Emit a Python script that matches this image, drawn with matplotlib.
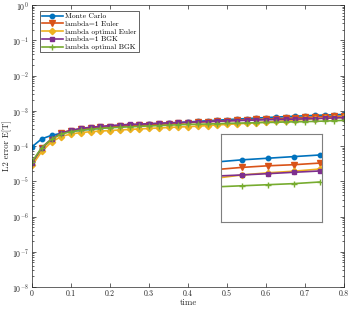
import numpy as np
import matplotlib
matplotlib.use('Agg')
import matplotlib.pyplot as plt
from matplotlib.ticker import LogLocator, NullFormatter

plt.rcParams['font.family'] = 'serif'
plt.rcParams['font.serif'] = ['cmr10']
plt.rcParams['mathtext.fontset'] = 'cm'
plt.rcParams['axes.formatter.use_mathtext'] = True
plt.rcParams['axes.unicode_minus'] = False

# time grid (dt = 0.025)
t = np.arange(33) * 0.025

# L2 error values, in units of 1e-4
mc = [0.95, 1.6, 2.0, 2.3, 2.6, 2.8, 3.0, 3.2, 3.4, 3.6, 3.8, 3.95, 4.1, 4.25, 4.4, 4.6, 4.8,
      5.0, 5.2, 5.4, 5.6, 5.8, 6.0, 6.2, 6.4, 6.6, 6.8, 7.0, 7.2, 7.4, 7.55, 7.7, 7.85]
euler1 = [0.33, 0.85, 1.5, 2.4, 2.75, 3.0, 3.2, 3.35, 3.5, 3.65, 3.8, 3.9, 4.0, 4.15, 4.3, 4.45, 4.6,
          4.75, 4.9, 5.05, 5.2, 5.35, 5.5, 5.65, 5.8, 5.95, 6.1, 6.3, 6.5, 6.7, 6.85, 6.95, 7.1]
euler_opt = [0.28, 0.7, 1.3, 1.85, 2.2, 2.4, 2.55, 2.65, 2.75, 2.85, 2.95, 3.05, 3.15, 3.25, 3.35, 3.45, 3.55,
             3.65, 3.8, 3.95, 4.1, 4.25, 4.4, 4.6, 4.8, 5.0, 5.2, 5.4, 5.7, 6.0, 6.2, 6.35, 6.55]
bgk1 = [0.33, 0.9, 1.6, 2.3, 2.8, 3.15, 3.4, 3.6, 3.8, 3.95, 4.1, 4.2, 4.3, 4.45, 4.55, 4.65, 4.75,
        4.85, 4.95, 5.05, 5.15, 5.25, 5.35, 5.45, 5.55, 5.65, 5.7, 5.8, 5.9, 6.0, 6.12, 6.25, 6.37]
bgk_opt = [0.36, 0.9, 1.55, 2.2, 2.55, 2.8, 3.0, 3.15, 3.3, 3.4, 3.5, 3.6, 3.7, 3.8, 3.9, 4.0, 4.1,
           4.15, 4.2, 4.3, 4.4, 4.45, 4.5, 4.6, 4.65, 4.7, 4.8, 4.85, 4.9, 5.0, 5.1, 5.2, 5.35]

labels = ['Monte Carlo', 'lambda=1 Euler', 'lambda optimal Euler', 'lambda=1 BGK', 'lambda optimal BGK']
colors = ['#0072BD', '#D95319', '#EDB120', '#7E2F8E', '#77AC30']
markers = ['o', 'v', 'D', 's', '+']
msizes = [3.2, 4, 3.2, 2.6, 4]
series = [mc, euler1, euler_opt, bgk1, bgk_opt]

dark = '#262626'

fig = plt.figure(figsize=(3.49, 3.09), dpi=100)
ax = fig.add_axes([0.0917, 0.0712, 0.894, 0.9126])

for y, lab, c, m, ms in zip(series, labels, colors, markers, msizes):
    ax.semilogy(t, np.array(y) * 1e-4, color=c, marker=m, markersize=ms, markerfacecolor=c,
                markeredgecolor=c, markeredgewidth=1.0, linewidth=1.2, label=lab)

ax.set_xlim(0, 0.8)
ax.set_ylim(1e-8, 1)
ax.set_xticks(np.arange(0, 0.81, 0.1))
ax.set_xticklabels(['0', '0.1', '0.2', '0.3', '0.4', '0.5', '0.6', '0.7', '0.8'])
ax.yaxis.set_major_locator(LogLocator(base=10, numticks=20))
ax.yaxis.set_minor_locator(LogLocator(base=10, subs=np.arange(2, 10), numticks=20))
ax.yaxis.set_minor_formatter(NullFormatter())
ax.tick_params(which='both', direction='in', top=True, right=True, labelsize=5.7, colors=dark,
               width=0.5, pad=2)
ax.tick_params(which='major', length=3)
ax.tick_params(which='minor', length=1.6)
for s in ax.spines.values():
    s.set_linewidth(0.5)
    s.set_color(dark)
ax.set_xlabel('time', fontsize=6.3, color=dark, labelpad=0.3)
ax.set_ylabel('L2 error E[T]', fontsize=6.3, color=dark, labelpad=0.3)

leg = ax.legend(loc='upper left', bbox_to_anchor=(0.02, 0.985), fontsize=5.4, fancybox=False,
                framealpha=1, edgecolor=dark, handlelength=2.8, borderpad=0.3,
                labelspacing=0.2, handletextpad=0.3, borderaxespad=0.2)
leg.get_frame().set_linewidth(0.5)

# zoomed inset near the end of the time window
axin = fig.add_axes([0.633, 0.2816, 0.289, 0.285])
for y, c, m, ms in zip(series, colors, markers, msizes):
    axin.plot(t, np.array(y) * 1e-4, color=c, marker=m, markersize=ms, markerfacecolor=c,
              markeredgecolor=c, markeredgewidth=1.0, linewidth=1.2)
axin.set_xlim(0.705, 0.802)
axin.set_ylim(1.65e-4, 9.8e-4)
axin.set_xticks([])
axin.set_yticks([])
for s in axin.spines.values():
    s.set_linewidth(0.8)
    s.set_color('#7f7f7f')

fig.savefig('out.png', dpi=100)
